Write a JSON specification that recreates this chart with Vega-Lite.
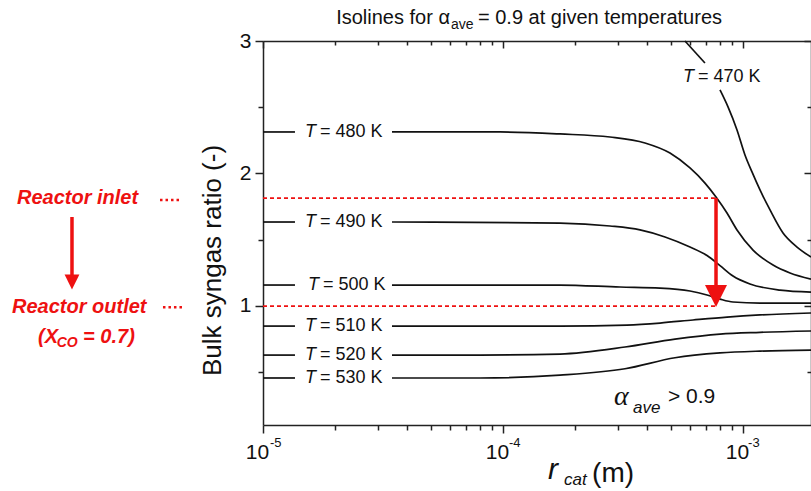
{
  "$schema": "https://vega.github.io/schema/vega-lite/v6.json",
  "width": 548,
  "height": 384,
  "autosize": {"type": "none"},
  "padding": {"left": 263, "top": 41, "right": 0, "bottom": 66},
  "background": "white",
  "config": {
    "view": {"stroke": null},
    "font": "Liberation Sans",
    "axis": {
      "domainColor": "#222",
      "domainWidth": 1.5,
      "tickColor": "#222",
      "tickWidth": 1.5,
      "labelColor": "#111",
      "labelFont": "Liberation Sans",
      "grid": false
    }
  },
  "datasets": {
    "curves": [
      {"T": "470 K", "seg": "470a", "r": 0.000573, "ratio": 3.0},
      {"T": "470 K", "seg": "470a", "r": 0.000694, "ratio": 2.834},
      {"T": "470 K", "seg": "470b", "r": 0.000802, "ratio": 2.63},
      {"T": "470 K", "seg": "470b", "r": 0.000866, "ratio": 2.502},
      {"T": "470 K", "seg": "470b", "r": 0.000944, "ratio": 2.328},
      {"T": "470 K", "seg": "470b", "r": 0.001019, "ratio": 2.139},
      {"T": "470 K", "seg": "470b", "r": 0.00109, "ratio": 2.011},
      {"T": "470 K", "seg": "470b", "r": 0.001177, "ratio": 1.875},
      {"T": "470 K", "seg": "470b", "r": 0.001296, "ratio": 1.724},
      {"T": "470 K", "seg": "470b", "r": 0.001468, "ratio": 1.55},
      {"T": "470 K", "seg": "470b", "r": 0.001679, "ratio": 1.444},
      {"T": "470 K", "seg": "470b", "r": 0.00192, "ratio": 1.369},

      {"T": "480 K", "seg": "480a", "r": 0.00001, "ratio": 2.313},
      {"T": "480 K", "seg": "480a", "r": 0.00001359, "ratio": 2.313},
      {"T": "480 K", "seg": "480b", "r": 0.00003447, "ratio": 2.313},
      {"T": "480 K", "seg": "480b", "r": 0.0000972, "ratio": 2.313},
      {"T": "480 K", "seg": "480b", "r": 0.0001727, "ratio": 2.298},
      {"T": "480 K", "seg": "480b", "r": 0.0002791, "ratio": 2.275},
      {"T": "480 K", "seg": "480b", "r": 0.0003905, "ratio": 2.23},
      {"T": "480 K", "seg": "480b", "r": 0.0004963, "ratio": 2.154},
      {"T": "480 K", "seg": "480b", "r": 0.0006013, "ratio": 2.041},
      {"T": "480 K", "seg": "480b", "r": 0.0006944, "ratio": 1.927},
      {"T": "480 K", "seg": "480b", "r": 0.0007718, "ratio": 1.822},
      {"T": "480 K", "seg": "480b", "r": 0.0008577, "ratio": 1.701},
      {"T": "480 K", "seg": "480b", "r": 0.0009441, "ratio": 1.573},
      {"T": "480 K", "seg": "480b", "r": 0.001101, "ratio": 1.421},
      {"T": "480 K", "seg": "480b", "r": 0.001334, "ratio": 1.308},
      {"T": "480 K", "seg": "480b", "r": 0.00157, "ratio": 1.248},
      {"T": "480 K", "seg": "480b", "r": 0.00192, "ratio": 1.202},

      {"T": "490 K", "seg": "490a", "r": 0.00001, "ratio": 1.633},
      {"T": "490 K", "seg": "490a", "r": 0.00001359, "ratio": 1.633},
      {"T": "490 K", "seg": "490b", "r": 0.00003447, "ratio": 1.633},
      {"T": "490 K", "seg": "490b", "r": 0.0001727, "ratio": 1.625},
      {"T": "490 K", "seg": "490b", "r": 0.0002791, "ratio": 1.603},
      {"T": "490 K", "seg": "490b", "r": 0.0003723, "ratio": 1.573},
      {"T": "490 K", "seg": "490b", "r": 0.0004732, "ratio": 1.52},
      {"T": "490 K", "seg": "490b", "r": 0.0006013, "ratio": 1.444},
      {"T": "490 K", "seg": "490b", "r": 0.0007079, "ratio": 1.38},
      {"T": "490 K", "seg": "490b", "r": 0.000802, "ratio": 1.304},
      {"T": "490 K", "seg": "490b", "r": 0.0009085, "ratio": 1.225},
      {"T": "490 K", "seg": "490b", "r": 0.001069, "ratio": 1.165},
      {"T": "490 K", "seg": "490b", "r": 0.001426, "ratio": 1.119},
      {"T": "490 K", "seg": "490b", "r": 0.00192, "ratio": 1.104},

      {"T": "500 K", "seg": "500a", "r": 0.00001, "ratio": 1.157},
      {"T": "500 K", "seg": "500a", "r": 0.00001359, "ratio": 1.157},
      {"T": "500 K", "seg": "500b", "r": 0.00003447, "ratio": 1.157},
      {"T": "500 K", "seg": "500b", "r": 0.0001727, "ratio": 1.157},
      {"T": "500 K", "seg": "500b", "r": 0.0003073, "ratio": 1.142},
      {"T": "500 K", "seg": "500b", "r": 0.000451, "ratio": 1.134},
      {"T": "500 K", "seg": "500b", "r": 0.0006013, "ratio": 1.112},
      {"T": "500 K", "seg": "500b", "r": 0.0007079, "ratio": 1.082},
      {"T": "500 K", "seg": "500b", "r": 0.000802, "ratio": 1.051},
      {"T": "500 K", "seg": "500b", "r": 0.0009085, "ratio": 1.029},
      {"T": "500 K", "seg": "500b", "r": 0.001177, "ratio": 1.021},
      {"T": "500 K", "seg": "500b", "r": 0.00192, "ratio": 1.021},

      {"T": "510 K", "seg": "510a", "r": 0.00001, "ratio": 0.847},
      {"T": "510 K", "seg": "510a", "r": 0.00001359, "ratio": 0.847},
      {"T": "510 K", "seg": "510b", "r": 0.00003447, "ratio": 0.847},
      {"T": "510 K", "seg": "510b", "r": 0.0001727, "ratio": 0.847},
      {"T": "510 K", "seg": "510b", "r": 0.0003286, "ratio": 0.855},
      {"T": "510 K", "seg": "510b", "r": 0.000451, "ratio": 0.87},
      {"T": "510 K", "seg": "510b", "r": 0.000619, "ratio": 0.893},
      {"T": "510 K", "seg": "510b", "r": 0.0008577, "ratio": 0.915},
      {"T": "510 K", "seg": "510b", "r": 0.001177, "ratio": 0.931},
      {"T": "510 K", "seg": "510b", "r": 0.00192, "ratio": 0.946},

      {"T": "520 K", "seg": "520a", "r": 0.00001, "ratio": 0.628},
      {"T": "520 K", "seg": "520a", "r": 0.00001359, "ratio": 0.628},
      {"T": "520 K", "seg": "520b", "r": 0.00003447, "ratio": 0.628},
      {"T": "520 K", "seg": "520b", "r": 0.0000802, "ratio": 0.628},
      {"T": "520 K", "seg": "520b", "r": 0.0001727, "ratio": 0.636},
      {"T": "520 K", "seg": "520b", "r": 0.0003224, "ratio": 0.689},
      {"T": "520 K", "seg": "520b", "r": 0.0005207, "ratio": 0.749},
      {"T": "520 K", "seg": "520b", "r": 0.000802, "ratio": 0.787},
      {"T": "520 K", "seg": "520b", "r": 0.001177, "ratio": 0.8},
      {"T": "520 K", "seg": "520b", "r": 0.00192, "ratio": 0.81},

      {"T": "530 K", "seg": "530a", "r": 0.00001, "ratio": 0.455},
      {"T": "530 K", "seg": "530a", "r": 0.00001359, "ratio": 0.455},
      {"T": "530 K", "seg": "530b", "r": 0.00003447, "ratio": 0.455},
      {"T": "530 K", "seg": "530b", "r": 0.0000802, "ratio": 0.455},
      {"T": "530 K", "seg": "530b", "r": 0.0001727, "ratio": 0.477},
      {"T": "530 K", "seg": "530b", "r": 0.0003224, "ratio": 0.525},
      {"T": "530 K", "seg": "530b", "r": 0.0005207, "ratio": 0.608},
      {"T": "530 K", "seg": "530b", "r": 0.000802, "ratio": 0.644},
      {"T": "530 K", "seg": "530b", "r": 0.001177, "ratio": 0.658},
      {"T": "530 K", "seg": "530b", "r": 0.00192, "ratio": 0.666}
    ],
    "dashes": [
      {"level": "Reactor inlet", "r1": 0.00001, "r2": 0.0007718, "v": 1.814},
      {"level": "Reactor outlet", "r1": 0.00001, "r2": 0.0007718, "v": 0.998}
    ],
    "dots": [
      {"level": "Reactor inlet", "r1": 0.000003723, "r2": 0.00000455, "v": 1.8},
      {"level": "Reactor outlet", "r1": 0.00000383, "r2": 0.00000469, "v": 0.99}
    ],
    "shafts": [
      {"arrow": "main", "r": 0.0007718, "y1": 1.814, "y2": 1.12},
      {"arrow": "left", "r": 0.0000016, "y1": 1.671, "y2": 1.21}
    ],
    "heads": [
      {"arrow": "main", "r": 0.0007718, "v": 1.074}
    ],
    "smallheads": [
      {"arrow": "left", "r": 0.0000016, "v": 1.18}
    ],
    "texts": [
      {"kind": "Tit", "text": "T", "r": 0.000625, "v": 2.728},
      {"kind": "Tit", "text": "T", "r": 0.00001662, "v": 2.313},
      {"kind": "Tit", "text": "T", "r": 0.00001662, "v": 1.633},
      {"kind": "Tit", "text": "T", "r": 0.00001711, "v": 1.157},
      {"kind": "Tit", "text": "T", "r": 0.00001662, "v": 0.847},
      {"kind": "Tit", "text": "T", "r": 0.00001662, "v": 0.628},
      {"kind": "Tit", "text": "T", "r": 0.00001662, "v": 0.455},
      {"kind": "Tval", "text": "= 470 K", "r": 0.0006494, "v": 2.728},
      {"kind": "Tval", "text": "= 480 K", "r": 0.00001728, "v": 2.313},
      {"kind": "Tval", "text": "= 490 K", "r": 0.00001728, "v": 1.633},
      {"kind": "Tval", "text": "= 500 K", "r": 0.00001778, "v": 1.157},
      {"kind": "Tval", "text": "= 510 K", "r": 0.00001728, "v": 0.847},
      {"kind": "Tval", "text": "= 520 K", "r": 0.00001728, "v": 0.628},
      {"kind": "Tval", "text": "= 530 K", "r": 0.00001728, "v": 0.455},
      {"kind": "titleA", "text": "Isolines for α", "r": 0.00006014, "v": 3.174},
      {"kind": "titleSub", "text": "ave", "r": 0.00006072, "v": 3.121},
      {"kind": "titleB", "text": "= 0.9 at given temperatures", "r": 0.00007866, "v": 3.174},
      {"kind": "red", "text": "Reactor inlet", "r": 0.000000944, "v": 1.814},
      {"kind": "red", "text": "Reactor outlet", "r": 0.0000009, "v": 0.991},
      {"kind": "red", "text": "(X", "r": 0.000001155, "v": 0.764},
      {"kind": "red", "text": "= 0.7)", "r": 0.00000178, "v": 0.764},
      {"kind": "redSub", "text": "CO", "r": 0.000001381, "v": 0.719},
      {"kind": "alpha", "text": "α", "r": 0.0002901, "v": 0.311},
      {"kind": "sub", "text": "ave", "r": 0.000348, "v": 0.228},
      {"kind": "gt", "text": "> 0.9", "r": 0.000487, "v": 0.311},
      {"kind": "rcat", "text": "r", "r": 0.000154, "v": -0.24},
      {"kind": "sub", "text": "cat", "r": 0.0001795, "v": -0.315},
      {"kind": "unit", "text": "(m)", "r": 0.000235, "v": -0.27},
      {"kind": "sup", "text": "-5", "r": 0.000010694, "v": -0.036},
      {"kind": "sup", "text": "-4", "r": 0.00010593, "v": -0.036},
      {"kind": "sup", "text": "-3", "r": 0.0010497, "v": -0.036}
    ]
  },
  "layer": [
    {
      "data": {"name": "curves"},
      "mark": {"type": "line", "interpolate": "monotone", "strokeWidth": 1.7, "color": "#111"},
      "encoding": {
        "x": {
          "field": "r", "type": "quantitative",
          "scale": {"type": "log", "domain": [0.00001, 0.00192], "nice": false},
          "axis": {
            "orient": "bottom",
            "title": null,
            "values": [0.00001, 0.00002, 0.00003, 0.00004, 0.00005, 0.00006, 0.00007, 0.00008, 0.00009, 0.0001, 0.0002, 0.0003, 0.0004, 0.0005, 0.0006, 0.0007, 0.0008, 0.0009, 0.001],
            "labelExpr": "abs(log(datum.value)/LN10 - round(log(datum.value)/LN10)) < 0.01 ? '10' : ''",
            "labelFontSize": 21,
            "labelPadding": 8,
            "labelOffset": -6,
            "labelOverlap": false,
            "labelFlush": false,
            "tickSize": {"condition": {"test": "abs(log(datum.value)/LN10 - round(log(datum.value)/LN10)) < 0.01", "value": 8}, "value": 5}
          }
        },
        "y": {
          "field": "ratio", "type": "quantitative",
          "scale": {"domain": [0.1, 3], "nice": false, "zero": false},
          "axis": {
            "orient": "left",
            "values": [0.5, 1, 1.5, 2, 2.5, 3],
            "labelExpr": "datum.value % 1 == 0 ? format(datum.value, 'd') : ''",
            "labelFontSize": 21,
            "labelPadding": 4,
            "labelFlush": false,
            "labelOverlap": false,
            "tickSize": {"condition": {"test": "datum.value % 1 == 0", "value": 8}, "value": 5},
            "title": "Bulk syngas ratio (-)",
            "titleFont": "Liberation Sans",
            "titleFontSize": 26,
            "titleFontWeight": "normal",
            "titleColor": "#111",
            "titleAngle": 270,
            "titleAlign": "center",
            "titleBaseline": "middle",
            "titleX": -51,
            "titleY": 219
          }
        },
        "detail": {"field": "seg", "type": "nominal"}
      }
    },
    {
      "data": {"name": "dashes"},
      "mark": {"type": "rule", "color": "#ee1111", "strokeWidth": 1.7, "strokeDash": [4, 3]},
      "encoding": {
        "x": {
          "field": "r1", "type": "quantitative",
          "axis": {
            "orient": "top",
            "title": null,
            "labels": false,
            "values": [0.00001, 0.00002, 0.00003, 0.00004, 0.00005, 0.00006, 0.00007, 0.00008, 0.00009, 0.0001, 0.0002, 0.0003, 0.0004, 0.0005, 0.0006, 0.0007, 0.0008, 0.0009, 0.001],
            "tickSize": {"condition": {"test": "abs(log(datum.value)/LN10 - round(log(datum.value)/LN10)) < 0.01", "value": -7}, "value": -4}
          }
        },
        "x2": {"field": "r2"},
        "y": {
          "field": "v", "type": "quantitative",
          "axis": {
            "orient": "right",
            "title": null,
            "labels": false,
            "values": [0.5, 1, 1.5, 2, 2.5, 3],
            "tickSize": {"condition": {"test": "datum.value % 1 == 0", "value": -7}, "value": -4}
          }
        }
      }
    },
    {
      "data": {"name": "dots"},
      "mark": {"type": "rule", "color": "#ee1111", "strokeWidth": 2.5, "strokeDash": [2.5, 3]},
      "encoding": {
        "x": {"field": "r1", "type": "quantitative", "axis": null},
        "x2": {"field": "r2"},
        "y": {"field": "v", "type": "quantitative", "axis": null}
      }
    },
    {
      "data": {"name": "shafts"},
      "mark": {"type": "rule", "color": "#ee1111", "strokeWidth": 3.5},
      "encoding": {
        "x": {"field": "r", "type": "quantitative", "axis": null},
        "y": {"field": "y1", "type": "quantitative", "axis": null},
        "y2": {"field": "y2"}
      }
    },
    {
      "data": {"name": "heads"},
      "mark": {"type": "point", "shape": "M -1 -1 L 1 -1 L 0 1 Z", "filled": true, "size": 484, "color": "#ee1111", "opacity": 1},
      "encoding": {
        "x": {"field": "r", "type": "quantitative", "axis": null},
        "y": {"field": "v", "type": "quantitative", "axis": null}
      }
    },
    {
      "data": {"name": "smallheads"},
      "mark": {"type": "point", "shape": "M -1 -1 L 1 -1 L 0 1 Z", "filled": true, "size": 220, "color": "#ee1111", "opacity": 1},
      "encoding": {
        "x": {"field": "r", "type": "quantitative", "axis": null},
        "y": {"field": "v", "type": "quantitative", "axis": null}
      }
    },
    {
      "data": {"name": "texts"},
      "transform": [{"filter": "datum.kind == 'Tit'"}],
      "mark": {"type": "text", "align": "right", "baseline": "middle", "fontSize": 18, "fontStyle": "italic", "font": "Liberation Sans", "color": "#111"},
      "encoding": {
        "x": {"field": "r", "type": "quantitative", "axis": null},
        "y": {"field": "v", "type": "quantitative", "axis": null},
        "text": {"field": "text"}
      }
    },
    {
      "data": {"name": "texts"},
      "transform": [{"filter": "datum.kind == 'Tval'"}],
      "mark": {"type": "text", "align": "left", "baseline": "middle", "fontSize": 18, "font": "Liberation Sans", "color": "#111"},
      "encoding": {
        "x": {"field": "r", "type": "quantitative", "axis": null},
        "y": {"field": "v", "type": "quantitative", "axis": null},
        "text": {"field": "text"}
      }
    },
    {
      "data": {"name": "texts"},
      "transform": [{"filter": "datum.kind == 'titleA'"}],
      "mark": {"type": "text", "align": "right", "baseline": "middle", "fontSize": 20, "font": "Liberation Sans", "color": "#111"},
      "encoding": {
        "x": {"field": "r", "type": "quantitative", "axis": null},
        "y": {"field": "v", "type": "quantitative", "axis": null},
        "text": {"field": "text"}
      }
    },
    {
      "data": {"name": "texts"},
      "transform": [{"filter": "datum.kind == 'titleB'"}],
      "mark": {"type": "text", "align": "left", "baseline": "middle", "fontSize": 20, "font": "Liberation Sans", "color": "#111"},
      "encoding": {
        "x": {"field": "r", "type": "quantitative", "axis": null},
        "y": {"field": "v", "type": "quantitative", "axis": null},
        "text": {"field": "text"}
      }
    },
    {
      "data": {"name": "texts"},
      "transform": [{"filter": "datum.kind == 'titleSub'"}],
      "mark": {"type": "text", "align": "left", "baseline": "middle", "fontSize": 14, "font": "Liberation Sans", "color": "#111"},
      "encoding": {
        "x": {"field": "r", "type": "quantitative", "axis": null},
        "y": {"field": "v", "type": "quantitative", "axis": null},
        "text": {"field": "text"}
      }
    },
    {
      "data": {"name": "texts"},
      "transform": [{"filter": "datum.kind == 'red'"}],
      "mark": {"type": "text", "align": "left", "baseline": "middle", "fontSize": 20, "fontStyle": "italic", "fontWeight": "bold", "font": "Liberation Sans", "color": "#ee1111"},
      "encoding": {
        "x": {"field": "r", "type": "quantitative", "axis": null},
        "y": {"field": "v", "type": "quantitative", "axis": null},
        "text": {"field": "text"}
      }
    },
    {
      "data": {"name": "texts"},
      "transform": [{"filter": "datum.kind == 'redSub'"}],
      "mark": {"type": "text", "align": "left", "baseline": "middle", "fontSize": 14, "fontStyle": "italic", "fontWeight": "bold", "font": "Liberation Sans", "color": "#ee1111"},
      "encoding": {
        "x": {"field": "r", "type": "quantitative", "axis": null},
        "y": {"field": "v", "type": "quantitative", "axis": null},
        "text": {"field": "text"}
      }
    },
    {
      "data": {"name": "texts"},
      "transform": [{"filter": "datum.kind == 'alpha'"}],
      "mark": {"type": "text", "align": "left", "baseline": "middle", "fontSize": 28, "fontStyle": "italic", "font": "Liberation Serif", "color": "#111"},
      "encoding": {
        "x": {"field": "r", "type": "quantitative", "axis": null},
        "y": {"field": "v", "type": "quantitative", "axis": null},
        "text": {"field": "text"}
      }
    },
    {
      "data": {"name": "texts"},
      "transform": [{"filter": "datum.kind == 'sub'"}],
      "mark": {"type": "text", "align": "left", "baseline": "middle", "fontSize": 17, "fontStyle": "italic", "font": "Liberation Sans", "color": "#111"},
      "encoding": {
        "x": {"field": "r", "type": "quantitative", "axis": null},
        "y": {"field": "v", "type": "quantitative", "axis": null},
        "text": {"field": "text"}
      }
    },
    {
      "data": {"name": "texts"},
      "transform": [{"filter": "datum.kind == 'gt'"}],
      "mark": {"type": "text", "align": "left", "baseline": "middle", "fontSize": 21, "font": "Liberation Sans", "color": "#111"},
      "encoding": {
        "x": {"field": "r", "type": "quantitative", "axis": null},
        "y": {"field": "v", "type": "quantitative", "axis": null},
        "text": {"field": "text"}
      }
    },
    {
      "data": {"name": "texts"},
      "transform": [{"filter": "datum.kind == 'sup'"}],
      "mark": {"type": "text", "align": "left", "baseline": "middle", "fontSize": 13, "font": "Liberation Sans", "color": "#111"},
      "encoding": {
        "x": {"field": "r", "type": "quantitative", "axis": null},
        "y": {"field": "v", "type": "quantitative", "axis": null},
        "text": {"field": "text"}
      }
    },
    {
      "data": {"name": "texts"},
      "transform": [{"filter": "datum.kind == 'rcat'"}],
      "mark": {"type": "text", "align": "left", "baseline": "middle", "fontSize": 30, "fontStyle": "italic", "font": "Liberation Sans", "color": "#111"},
      "encoding": {
        "x": {"field": "r", "type": "quantitative", "axis": null},
        "y": {"field": "v", "type": "quantitative", "axis": null},
        "text": {"field": "text"}
      }
    },
    {
      "data": {"name": "texts"},
      "transform": [{"filter": "datum.kind == 'unit'"}],
      "mark": {"type": "text", "align": "left", "baseline": "middle", "fontSize": 28, "font": "Liberation Sans", "color": "#111"},
      "encoding": {
        "x": {"field": "r", "type": "quantitative", "axis": null},
        "y": {"field": "v", "type": "quantitative", "axis": null},
        "text": {"field": "text"}
      }
    }
  ],
  "resolve": {"axis": {"x": "independent", "y": "independent"}}
}
